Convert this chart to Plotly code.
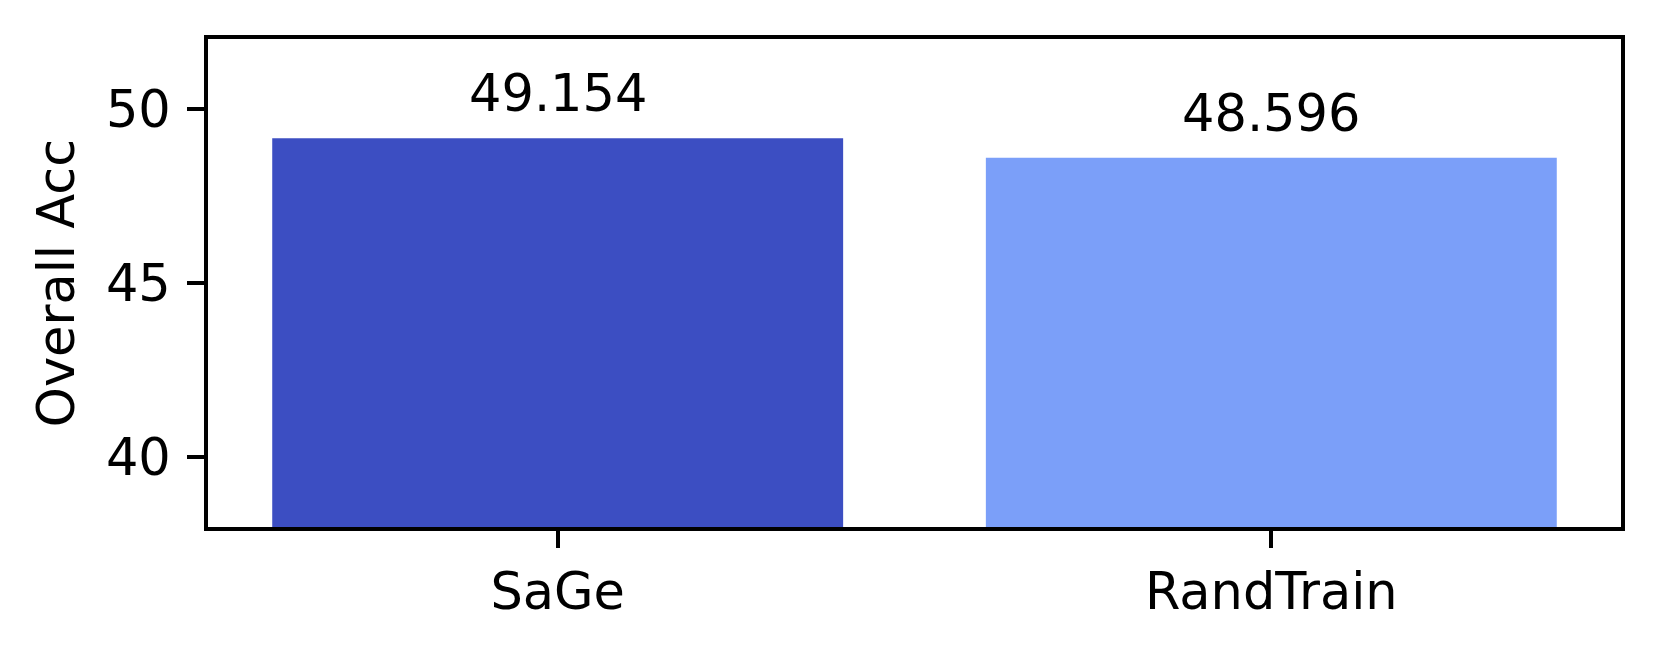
import plotly.graph_objects as go

categories = ["SaGe", "RandTrain"]
values = [49.154, 48.596]
colors = ["#3c4ec2", "#7b9ff9"]
y_ticks = [40, 45, 50]
y_label = "Overall Acc"

FONT = "DejaVu Sans"
FS = 51

fig = go.Figure()
fig.add_trace(go.Bar(
    x=categories, y=values, marker=dict(color=colors, line=dict(width=0)),
    width=0.8, showlegend=False,
))
for c, v in zip(categories, values):
    fig.add_annotation(x=c, y=v, text=f"{v:.3f}", showarrow=False,
                       yanchor="bottom", yshift=13,
                       font=dict(family=FONT, size=FS, color="black"))

fig.update_layout(
    width=1660, height=651,
    margin=dict(l=200, r=47, t=31, b=132, pad=0, autoexpand=False),
    paper_bgcolor="white", plot_bgcolor="white",
    font=dict(family=FONT, size=FS, color="black"),
)
fig.update_xaxes(
    range=[-0.49, 1.49], showline=True, linewidth=4, linecolor="black", mirror=True,
    ticks="outside", ticklen=17, tickwidth=4, tickcolor="black", automargin=False,
    showgrid=False, zeroline=False, tickfont=dict(family=FONT, size=FS),
)
fig.update_yaxes(
    range=[38, 52], tickvals=y_ticks, showline=True, linewidth=4, linecolor="black", mirror=True,
    ticks="outside", ticklen=17, tickwidth=4, tickcolor="black", automargin=False,
    ticklabelstandoff=6,
    showgrid=False, zeroline=False, tickfont=dict(family=FONT, size=FS),
    title=dict(text=y_label, font=dict(family=FONT, size=FS), standoff=16),
)
fig.write_html("out.html")
